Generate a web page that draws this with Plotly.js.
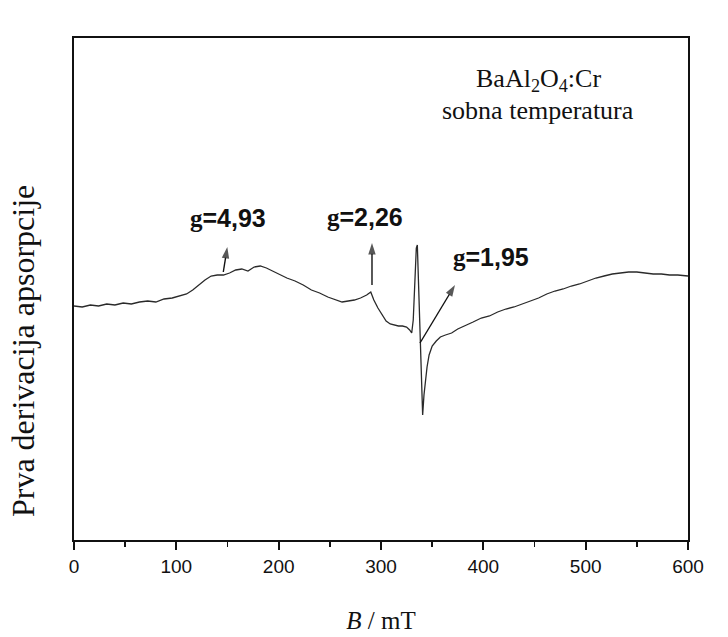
<!DOCTYPE html>
<html>
<head>
<meta charset="utf-8">
<script src="https://cdn.plot.ly/plotly-3.0.1.min.js"></script>
<style>
  html, body { margin: 0; padding: 0; background: #ffffff; }
  #chart { width: 728px; height: 637px; }
</style>
</head>
<body>
<div id="chart"></div>
<script>
// Magnetic field B (mT)
const fieldB = [0, 8, 16, 24, 32, 40, 48, 56, 64, 72, 80, 88, 96, 104, 110, 116, 122, 128, 134, 140,
  146, 152, 158, 164, 170, 176, 182, 188, 194, 200, 208, 216, 224, 232, 240, 248, 256, 262, 268, 274,
  280, 286, 290, 293, 297, 301, 305, 309, 313, 317, 321, 325, 328, 330, 331.5, 333, 334.5, 335.5, 336.5, 338,
  339.5, 340.7, 342, 343.5, 345, 347, 350, 354, 358, 363, 369, 375, 382, 390, 398, 406, 414, 422, 430,
  438, 446, 454, 462, 470, 478, 486, 494, 502, 510, 518, 526, 534, 542, 550, 558, 566, 574, 582, 590, 600];
// First derivative of absorption (arbitrary units)
const signal = [234, 233, 235, 234, 236, 235, 237, 236, 238, 239, 238, 241, 242, 244, 246, 250, 255, 260, 264, 265,
  265, 267, 270, 271, 269, 273, 274, 272, 269, 266, 262, 259, 255, 250, 247, 243, 240, 238, 239, 240,
  242, 245, 248, 240, 232, 225, 219, 216, 215, 214, 214, 213, 210, 207, 220, 255, 292, 295, 260, 200,
  150, 125, 145, 162, 173, 185, 194, 199, 203, 205, 207, 211, 214, 218, 222, 224, 228, 231, 233,
  236, 239, 242, 246, 249, 251, 254, 256, 259, 262, 264, 266, 267, 268, 268, 267, 266, 266, 265, 265, 264];
// x-axis ticks
const tickVals = [0, 100, 200, 300, 400, 500, 600];
const tickText = ["0", "100", "200", "300", "400", "500", "600"];
// g-factor labels: text, label position, arrow tail, arrow tip
const gLabels = ["g=4,93", "g=2,26", "g=1,95"];
const gLabelX = [150.5, 284, 407.5];
const gLabelY = [322, 323, 283];
const arrowTailX = [145.9, 291.2, 338.1];
const arrowTailY = [268, 255, 197];
const arrowTipX = [149.8, 291.2, 372.3];
const arrowTipY = [293, 297, 255];

const traces = [{
  x: fieldB, y: signal, type: 'scatter', mode: 'lines',
  line: { color: '#2a2a2a', width: 1.3 },
  hoverinfo: 'skip', showlegend: false
}];

for (let i = 0; i < gLabels.length; i++) {
  traces.push({
    x: [arrowTailX[i], arrowTipX[i]], y: [arrowTailY[i], arrowTipY[i]],
    type: 'scatter', mode: 'lines+markers',
    line: { color: '#111', width: 1.4 },
    marker: { symbol: ['circle', 'arrow'], size: [0, 12], angleref: 'previous', color: '#111',
      line: { width: 0 } },
    hoverinfo: 'skip', showlegend: false, cliponaxis: false
  });
}

const annotations = [];
for (let i = 0; i < gLabels.length; i++) {
  const t = gLabels[i];
  annotations.push({
    x: gLabelX[i], y: gLabelY[i], xref: 'x', yref: 'y',
    text: '<span style="font-family:\'Liberation Serif\'">' + t.charAt(0) + '</span>' + t.slice(1),
    showarrow: false, xanchor: 'center', yanchor: 'middle',
    font: { family: 'Liberation Sans, Arial, sans-serif', size: 25, color: '#111', weight: 'bold' }
  });
}
annotations.push({
  x: 0.756, y: 0.916, xref: 'paper', yref: 'paper',
  text: 'BaAl<sub>2</sub>O<sub>4</sub>:Cr', showarrow: false,
  xanchor: 'center', yanchor: 'middle',
  font: { family: 'Liberation Serif, Times New Roman, serif', size: 26, color: '#111' }
});
annotations.push({
  x: 0.756, y: 0.855, xref: 'paper', yref: 'paper',
  text: 'sobna temperatura', showarrow: false,
  xanchor: 'center', yanchor: 'middle',
  font: { family: 'Liberation Serif, Times New Roman, serif', size: 26, color: '#111' }
});
annotations.push({
  x: -0.083, y: 0.3765, xref: 'paper', yref: 'paper',
  text: 'Prva derivacija apsorpcije', showarrow: false, textangle: -90,
  xanchor: 'center', yanchor: 'middle',
  font: { family: 'Liberation Serif, Times New Roman, serif', size: 32, color: '#111' }
});

const layout = {
  width: 728, height: 637,
  margin: { l: 74, r: 40, t: 38, b: 97 },
  paper_bgcolor: '#ffffff', plot_bgcolor: '#ffffff',
  showlegend: false,
  xaxis: {
    range: [0, 600], tickvals: tickVals, ticktext: tickText,
    ticks: 'outside', ticklen: 8, tickwidth: 2, tickcolor: '#111',
    minor: { dtick: 50, tick0: 0, ticks: 'outside', ticklen: 5, tickwidth: 1.5, tickcolor: '#111' },
    showline: true, linecolor: '#111', linewidth: 2, mirror: true,
    showgrid: false, zeroline: false,
    tickfont: { family: 'Liberation Sans, Arial, sans-serif', size: 19, color: '#111' },
    title: { text: '<i>B</i> / mT', standoff: 36,
      font: { family: 'Liberation Serif, Times New Roman, serif', size: 25, color: '#111' } }
  },
  yaxis: {
    range: [0, 502], showticklabels: false, ticks: '',
    showline: true, linecolor: '#111', linewidth: 2, mirror: true,
    showgrid: false, zeroline: false
  },
  annotations: annotations
};

Plotly.newPlot('chart', traces, layout, { staticPlot: true, displayModeBar: false });
</script>
</body>
</html>
